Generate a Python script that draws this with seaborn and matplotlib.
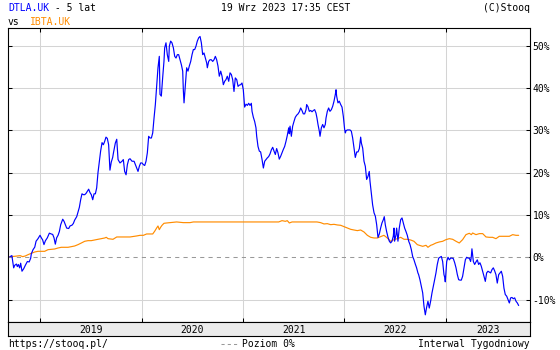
import numpy as np
import pandas as pd
import matplotlib
matplotlib.use("Agg")
import matplotlib.pyplot as plt
from matplotlib.lines import Line2D
import seaborn as sns

# ---------------- data (decimal years, % change) ----------------
dtla_x_a = [2018.698, 2018.719, 2018.737, 2018.747, 2018.764, 2018.773, 2018.783, 2018.796, 2018.806, 2018.819,
            2018.836, 2018.852, 2018.872, 2018.890, 2018.905, 2018.911, 2018.928, 2018.945, 2018.958, 2018.977,
            2018.997, 2019.010, 2019.023, 2019.036, 2019.050, 2019.069, 2019.089, 2019.109, 2019.122, 2019.135,
            2019.148, 2019.161, 2019.175, 2019.188, 2019.201, 2019.221, 2019.234, 2019.247, 2019.260, 2019.280,
            2019.293, 2019.313, 2019.326, 2019.339, 2019.359, 2019.372, 2019.385, 2019.398, 2019.411, 2019.425,
            2019.438, 2019.451, 2019.464, 2019.477, 2019.490, 2019.503, 2019.517, 2019.530, 2019.543, 2019.556,
            2019.569, 2019.582, 2019.595, 2019.609, 2019.622, 2019.635, 2019.648, 2019.661, 2019.674, 2019.687,
            2019.700, 2019.714]
dtla_y_a = [0.1, 0.4, -2.5, -1.9, -1.6, -2.2, -1.7, -2.5, -1.4, -3.3,
            -2.7, -1.9, -1.0, -1.1, -0.2, 0.8, 1.8, 2.4, 3.8, 4.4,
            5.2, 4.6, 4.1, 3.0, 3.9, 4.6, 5.7, 5.5, 5.4, 4.6,
            3.1, 4.6, 5.2, 6.1, 7.7, 9.0, 8.5, 7.7, 6.9, 6.8,
            7.4, 7.6, 8.0, 8.8, 9.6, 10.7, 11.8, 13.6, 15.0, 14.8,
            14.8, 15.1, 15.6, 16.1, 15.3, 14.8, 13.6, 15.0, 15.0, 16.4,
            20.0, 22.5, 25.1, 27.1, 26.6, 27.4, 28.4, 28.1, 26.6, 20.6,
            22.5, 23.6]

dtla_x_b = [2019.721, 2019.740, 2019.754, 2019.767, 2019.786, 2019.806, 2019.819, 2019.832, 2019.846, 2019.859,
            2019.872, 2019.885, 2019.905, 2019.925, 2019.938, 2019.951, 2019.964, 2019.977, 2019.990, 2020.003,
            2020.017, 2020.030, 2020.043, 2020.056, 2020.069, 2020.082, 2020.096, 2020.109, 2020.122, 2020.135,
            2020.148, 2020.161, 2020.174, 2020.181, 2020.194, 2020.207, 2020.220, 2020.227, 2020.240, 2020.253,
            2020.267, 2020.273, 2020.286, 2020.299, 2020.313, 2020.326, 2020.339, 2020.352, 2020.365, 2020.378,
            2020.392, 2020.405, 2020.411, 2020.418, 2020.431, 2020.444, 2020.457, 2020.470, 2020.484, 2020.497,
            2020.510, 2020.523, 2020.536, 2020.549, 2020.563, 2020.576, 2020.589, 2020.602, 2020.615, 2020.628,
            2020.642, 2020.648, 2020.661, 2020.674, 2020.687, 2020.701, 2020.714]
dtla_y_b = [24.6, 27.0, 27.9, 23.1, 22.3, 22.7, 23.1, 20.3, 19.5, 21.9,
            23.1, 23.3, 22.7, 22.7, 21.9, 21.1, 20.3, 21.5, 22.3, 22.3,
            21.9, 21.7, 22.7, 24.7, 28.6, 28.2, 28.2, 29.4, 32.9, 36.1,
            40.4, 44.8, 47.5, 38.5, 38.1, 42.4, 46.3, 49.5, 50.7, 47.9,
            46.3, 49.9, 51.1, 50.7, 49.5, 47.5, 47.1, 47.9, 47.9, 46.7,
            45.5, 44.0, 39.6, 36.5, 40.8, 44.8, 44.0, 45.2, 46.3, 47.9,
            49.1, 49.1, 49.9, 51.1, 51.9, 52.2, 50.7, 47.9, 48.3, 47.1,
            45.9, 44.8, 46.3, 46.7, 46.7, 46.3, 46.7]

dtla_x_c = [2020.727, 2020.740, 2020.753, 2020.766, 2020.780, 2020.793, 2020.806, 2020.819, 2020.832, 2020.845,
            2020.859, 2020.872, 2020.885, 2020.898, 2020.911, 2020.924, 2020.938, 2020.951, 2020.964, 2020.977,
            2020.990, 2021.003, 2021.010, 2021.016, 2021.030, 2021.043, 2021.056, 2021.069, 2021.082, 2021.089,
            2021.102, 2021.115, 2021.128, 2021.135, 2021.148, 2021.161, 2021.174, 2021.188, 2021.201, 2021.214,
            2021.227, 2021.240, 2021.253, 2021.266, 2021.280, 2021.293, 2021.306, 2021.319, 2021.332, 2021.345,
            2021.358, 2021.372, 2021.385, 2021.398, 2021.411, 2021.424, 2021.437, 2021.451, 2021.457, 2021.464,
            2021.477, 2021.490, 2021.503, 2021.516, 2021.530, 2021.543, 2021.556, 2021.569, 2021.582, 2021.595,
            2021.608, 2021.622, 2021.628, 2021.641, 2021.654, 2021.668, 2021.681, 2021.694, 2021.707, 2021.720,
            2021.730]
dtla_y_c = [47.5, 46.7, 45.2, 42.8, 44.0, 42.8, 40.8, 41.6, 42.0, 42.8,
            41.6, 43.6, 43.2, 42.0, 39.2, 42.4, 42.0, 40.4, 40.7, 40.8,
            41.2, 39.6, 37.3, 35.5, 36.2, 35.9, 36.4, 35.9, 36.4, 34.5,
            33.1, 32.1, 30.6, 28.6, 26.2, 25.1, 24.9, 23.1, 21.1, 22.7,
            23.1, 23.5, 23.8, 24.4, 25.4, 26.0, 25.1, 24.3, 25.7, 24.7,
            23.2, 23.9, 24.7, 25.5, 26.2, 27.4, 28.8, 30.6, 29.2, 31.0,
            28.6, 31.0, 32.1, 33.1, 33.6, 33.9, 34.4, 35.3, 34.7, 33.9,
            33.9, 34.9, 36.1, 35.6, 34.5, 34.7, 34.4, 34.7, 34.9, 34.1,
            32.9]

dtla_x_d = [2021.740, 2021.753, 2021.760, 2021.773, 2021.786, 2021.799, 2021.812, 2021.819, 2021.832, 2021.845,
            2021.858, 2021.872, 2021.885, 2021.898, 2021.911, 2021.918, 2021.924, 2021.937, 2021.950, 2021.964,
            2021.977, 2021.990, 2022.003, 2022.010, 2022.016, 2022.029, 2022.043, 2022.056, 2022.069, 2022.082,
            2022.095, 2022.108, 2022.122, 2022.135, 2022.148, 2022.161, 2022.168, 2022.181, 2022.194, 2022.207,
            2022.220, 2022.233, 2022.246, 2022.253, 2022.266, 2022.279, 2022.293, 2022.306, 2022.319, 2022.332,
            2022.345, 2022.358, 2022.371, 2022.385, 2022.394, 2022.404, 2022.417, 2022.431, 2022.444, 2022.457,
            2022.470, 2022.483, 2022.490, 2022.496, 2022.510, 2022.516, 2022.529, 2022.542, 2022.556, 2022.569,
            2022.582, 2022.595, 2022.608, 2022.621, 2022.635, 2022.648, 2022.661, 2022.674, 2022.687, 2022.700,
            2022.713, 2022.726]
dtla_y_d = [31.4, 29.8, 28.6, 30.6, 31.4, 30.6, 31.4, 32.9, 34.5, 35.3,
            34.5, 34.9, 35.7, 36.9, 38.5, 39.6, 38.1, 36.5, 36.9, 36.1,
            35.5, 33.3, 30.2, 29.4, 29.9, 30.1, 30.1, 30.1, 29.8, 28.2,
            25.8, 23.6, 24.9, 24.9, 25.7, 28.4, 27.0, 25.8, 22.7, 21.5,
            18.4, 19.1, 20.3, 18.0, 15.2, 12.4, 10.5, 9.7, 7.7, 4.7,
            5.5, 6.9, 8.1, 8.9, 9.6, 7.7, 6.1, 4.7, 3.8, 3.4,
            3.8, 5.0, 6.9, 3.8, 5.4, 6.9, 3.8, 6.9, 8.9, 9.3,
            8.1, 6.9, 6.1, 5.2, 3.8, 3.0, 1.8, 0.2, -0.6, -1.6,
            -2.5, -3.7]

dtla_x_e = [2022.733, 2022.746, 2022.760, 2022.773, 2022.786, 2022.799, 2022.812, 2022.825, 2022.838, 2022.852,
            2022.865, 2022.878, 2022.891, 2022.904, 2022.917, 2022.931, 2022.944, 2022.957, 2022.970, 2022.983,
            2022.990, 2022.996, 2023.010, 2023.023, 2023.036, 2023.049, 2023.062, 2023.075, 2023.089, 2023.102,
            2023.115, 2023.128, 2023.141, 2023.154, 2023.167, 2023.181, 2023.194, 2023.207, 2023.220, 2023.233,
            2023.246, 2023.253, 2023.259, 2023.273, 2023.286, 2023.299, 2023.312, 2023.325, 2023.338, 2023.351,
            2023.365, 2023.378, 2023.391, 2023.404, 2023.417, 2023.430, 2023.444, 2023.457, 2023.470, 2023.483,
            2023.496, 2023.509, 2023.523, 2023.536, 2023.549, 2023.562, 2023.575, 2023.588, 2023.602, 2023.615,
            2023.628, 2023.641, 2023.654, 2023.667, 2023.681, 2023.694, 2023.707, 2023.720]
dtla_y_e = [-4.1, -5.3, -6.9, -8.4, -11.6, -13.6, -11.8, -10.4, -12.0, -10.3,
            -8.4, -6.9, -5.3, -3.7, -1.7, -0.2, 0.0, 0.2, -1.0, -4.1,
            -4.7, -5.8, -1.0, 0.0, -0.6, -0.2, -0.2, -0.3, -1.3, -2.5,
            -4.1, -5.3, -5.4, -5.4, -4.5, -2.5, -0.6, 0.0, -0.2, -0.2,
            -1.0, 0.2, 2.0, -1.0, -1.7, -1.1, -0.6, -1.7, -1.3, -2.1,
            -3.3, -4.5, -5.7, -3.7, -3.3, -3.5, -3.7, -2.9, -2.5, -3.2,
            -4.1, -6.1, -4.1, -3.7, -3.3, -4.5, -7.3, -8.8, -9.2, -10.0,
            -10.8, -9.6, -9.5, -9.8, -9.6, -10.4, -10.8, -11.4]

ibta_x = [2018.698, 2018.747, 2018.800, 2018.826, 2018.852, 2018.879, 2018.911, 2018.945, 2018.977,
          2019.043, 2019.076, 2019.109, 2019.142, 2019.175, 2019.207, 2019.273, 2019.306, 2019.339, 2019.372,
          2019.405, 2019.438, 2019.471, 2019.503, 2019.536, 2019.569, 2019.602, 2019.635, 2019.651, 2019.668,
          2019.717, 2019.754, 2019.819, 2019.885, 2019.951, 2019.984,
          2020.017, 2020.049, 2020.109, 2020.128, 2020.148, 2020.161, 2020.174, 2020.187, 2020.201, 2020.220,
          2020.247, 2020.280, 2020.345, 2020.411, 2020.477, 2020.510, 2020.724,
          2021.023, 2021.352, 2021.385, 2021.418, 2021.437, 2021.457, 2021.484, 2021.730, 2021.766, 2021.799,
          2021.832, 2021.865, 2021.898, 2021.931, 2021.964, 2021.997,
          2022.029, 2022.062, 2022.095, 2022.128, 2022.161, 2022.194, 2022.227, 2022.260, 2022.293, 2022.326,
          2022.358, 2022.391, 2022.424, 2022.457, 2022.490, 2022.523, 2022.556, 2022.589, 2022.621, 2022.654,
          2022.687, 2022.720, 2022.740, 2022.773, 2022.806, 2022.825, 2022.852, 2022.871, 2022.904, 2022.937,
          2022.970,
          2023.003, 2023.036, 2023.069, 2023.102, 2023.134, 2023.167, 2023.200, 2023.233, 2023.253, 2023.266,
          2023.299, 2023.332, 2023.365, 2023.398, 2023.430, 2023.463, 2023.496, 2023.529, 2023.628, 2023.661,
          2023.694, 2023.720]
ibta_y = [0.15, 0.23, 0.39, 0.15, 0.31, 0.62, 0.94, 1.25, 1.41,
          1.41, 1.80, 1.88, 1.96, 2.20, 2.36, 2.36, 2.51, 2.67, 2.99,
          3.38, 3.78, 3.93, 3.93, 4.09, 4.25, 4.40, 4.56, 4.72, 4.40,
          4.25, 4.80, 4.80, 4.80, 5.04, 5.19,
          5.19, 5.51, 5.51, 6.14, 6.93, 7.40, 6.53, 7.09, 7.56, 8.03,
          8.11, 8.19, 8.35, 8.19, 8.19, 8.35, 8.35,
          8.35, 8.35, 8.66, 8.50, 8.66, 8.11, 8.35, 8.35, 8.19, 7.88,
          7.95, 7.71, 7.79, 7.64, 7.56, 7.24,
          6.93, 6.61, 6.45, 6.30, 6.45, 5.98, 5.19, 4.72, 4.56, 4.56,
          4.88, 5.19, 4.56, 3.78, 4.17, 4.40, 4.72, 4.25, 4.25, 4.09,
          3.78, 2.99, 2.83, 2.59, 2.83, 2.36, 2.83, 2.99, 3.38, 3.62,
          3.78,
          4.17, 4.40, 4.25, 3.78, 3.38, 4.17, 5.35, 5.67, 5.35, 5.74,
          5.35, 5.59, 5.59, 4.80, 4.72, 4.72, 4.40, 4.96, 4.96, 5.35,
          5.19, 5.19]

y_ticks = [-10, 0, 10, 20, 30, 40, 50]
year_ticks = [2019, 2020, 2021, 2022, 2023]
year_labels = ["2019", "2020", "2021", "2022", "2023"]

dtla_x = dtla_x_a + dtla_x_b + dtla_x_c + dtla_x_d + dtla_x_e
dtla_y = dtla_y_a + dtla_y_b + dtla_y_c + dtla_y_d + dtla_y_e
assert len(dtla_x) == len(dtla_y)
assert len(ibta_x) == len(ibta_y)

dtla = pd.DataFrame({"t": dtla_x, "v": dtla_y})
ibta = pd.DataFrame({"t": ibta_x, "v": ibta_y})

# ---------------- style ----------------
sns.set_theme(style="white")
plt.rcParams['font.family'] = ['DejaVu Sans Mono', 'DejaVu Sans']
plt.rcParams['font.size'] = 7

W, H = 560, 350
fig = plt.figure(figsize=(W / 100, H / 100), dpi=100)
fig.patch.set_facecolor("white")

x_lo, x_hi = 2018.681, 2023.832
y_lo, y_hi = -15.3, 54.2

ax = fig.add_axes([8 / W, (H - 322) / H, 522 / W, 294 / H])
ax.set_facecolor("white")
ax.set_xlim(x_lo, x_hi)
ax.set_ylim(y_lo, y_hi)

grid_c = "#d4d4d4"
for v in y_ticks:
    if v != 0:
        ax.axhline(v, color=grid_c, lw=0.75, zorder=0)
for yr in year_ticks:
    ax.axvline(yr, color=grid_c, lw=0.75, zorder=0)
ax.axhline(0, color="#999999", lw=0.75, ls=(0, (4, 4)), zorder=1)

sns.lineplot(data=ibta, x="t", y="v", ax=ax, color="#ff8c00", lw=0.85,
             estimator=None, sort=False, zorder=3)
sns.lineplot(data=dtla, x="t", y="v", ax=ax, color="#0000ff", lw=0.85,
             estimator=None, sort=False, zorder=4)

ax.set_xlabel("")
ax.set_ylabel("")
ax.set_yticks(y_ticks)
ax.set_yticklabels([f"{v}%" for v in y_ticks])
ax.tick_params(axis="y", left=True, right=True, labelleft=False, labelright=True,
               direction="in", length=3, width=0.75, pad=2, colors="black", labelsize=7)
ax.set_xticks(year_ticks)
ax.set_xticklabels([])
ax.tick_params(axis="x", top=True, bottom=True, labelbottom=False, direction="in",
               length=3, width=0.75, colors="black")
for s in ax.spines.values():
    s.set_color("black")
    s.set_linewidth(0.8)

# year band
band = fig.add_axes([8 / W, (H - 336) / H, 522 / W, 14 / H])
band.set_facecolor("#ebebeb")
band.set_xlim(x_lo, x_hi)
band.set_ylim(0, 1)
band.set_xticks([])
band.set_yticks([])
for s in band.spines.values():
    s.set_color("black")
    s.set_linewidth(0.8)
bounds = year_ticks + [x_hi]
for i, lab in enumerate(year_labels):
    band.text((bounds[i] + bounds[i + 1]) / 2, 0.45, lab, ha="center", va="center",
              fontsize=7, color="black")

# header / footer
def ftxt(x, y, s, **kw):
    fig.text(x / W, 1 - y / H, s, va="baseline", fontsize=7, **kw)

ftxt(8, 11, "DTLA.UK", color="#0000ff")
ftxt(49, 11, " - 5 lat", color="black")
ftxt(286, 11, "19 Wrz 2023 17:35 CEST", ha="center", color="black")
ftxt(530, 11, "(C)Stooq", ha="right", color="black")
ftxt(8, 25, "vs", color="black")
ftxt(30, 25, "IBTA.UK", color="#ff8c00")

ftxt(8, 347, "https://stooq.pl/", color="black")
fig.add_artist(Line2D([221 / W, 239 / W], [1 - 344 / H, 1 - 344 / H], color="#999999",
                      lw=0.75, ls=(0, (3, 3)), transform=fig.transFigure))
ftxt(242, 347, "Poziom 0%", color="black")
ftxt(530, 347, "Interwal Tygodniowy", ha="right", color="black")

fig.savefig("out.png", dpi=100, facecolor="white")
